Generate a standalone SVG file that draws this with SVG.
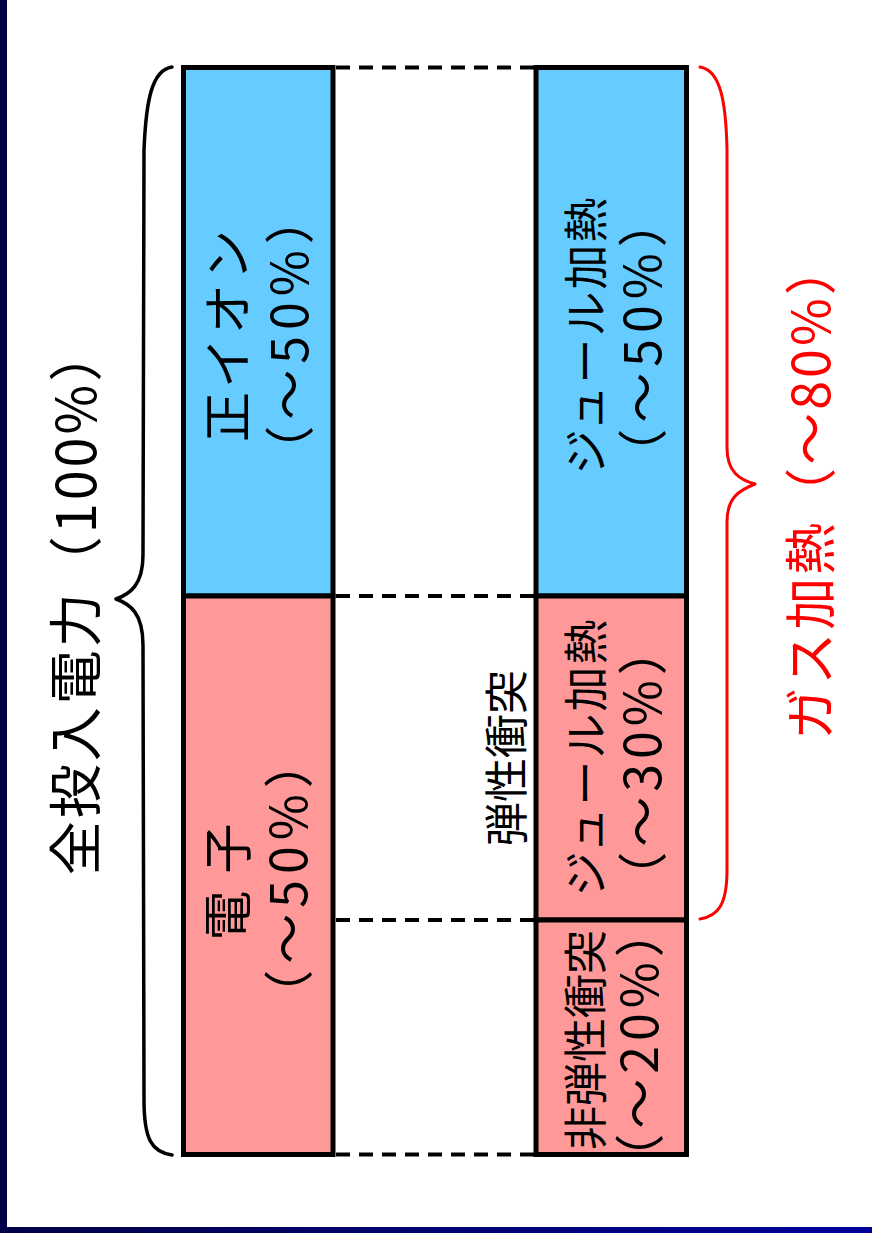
<svg xmlns="http://www.w3.org/2000/svg" width="872" height="1233" viewBox="0 0 872 1233">
<defs>
<linearGradient id="bottomGrad" x1="0" y1="0" x2="1" y2="0">
<stop offset="0" stop-color="#000048"/>
<stop offset="1" stop-color="#00009a"/>
</linearGradient>
</defs>
<style>
.blue{fill:#66CCFF;stroke:#000;stroke-width:5}
.pink{fill:#FF9999;stroke:#000;stroke-width:5}
.t{font-family:"Noto Sans CJK JP","Noto Sans",sans-serif;fill:#000;text-anchor:middle;dominant-baseline:central}
.pct{letter-spacing:6px}
.dash{stroke:#000;stroke-width:4;stroke-dasharray:14 9;fill:none}
.brace{fill:none;stroke:#000;stroke-width:3.5;stroke-linecap:round;stroke-linejoin:round}
.rbrace{fill:none;stroke:#FF0000;stroke-width:3;stroke-linecap:round;stroke-linejoin:round}
</style>
<rect x="0" y="0" width="872" height="1233" fill="#FFFFFF"/>
<rect x="0" y="0" width="7" height="1233" fill="#000048"/>
<rect x="0" y="1227" width="872" height="6" fill="url(#bottomGrad)"/>

<g id="connectors">
<line class="dash" x1="336" y1="67.5" x2="534" y2="67.5"/>
<line class="dash" x1="336" y1="596" x2="534" y2="596"/>
<line class="dash" x1="336" y1="920" x2="534" y2="920"/>
<line class="dash" x1="336" y1="1154.5" x2="534" y2="1154.5"/>
</g>

<g id="brace-total">
<path class="brace" d="M172,67 C152,70 146,100 144,150 L143,555 C143,585 130,594 116,599 C130,604 143,613 143,645 L144,1100 C144,1140 152,1152 172,1155"/>
<text class="t" font-size="54" style="letter-spacing:3px" transform="translate(72,600) rotate(-90)">全投入電力（100%）</text>
</g>

<g id="brace-gas">
<path class="rbrace" d="M700,67 C720,70 726,100 727,150 L727,448 C727,472 740,480 755,484 C740,490 727,497 727,522 L727,870 C727,905 718,916 700,919"/>
<text class="t" font-size="52" style="fill:#FF0000;letter-spacing:3px" transform="translate(807,490) rotate(-90)">ガス加熱（～80%）</text>
</g>

<g id="node-ion">
<rect class="blue" x="183.5" y="67.5" width="149.5" height="528.5"/>
<text class="t" font-size="50" style="letter-spacing:4px" transform="translate(224,334) rotate(-90)">正イオン</text>
<text class="t pct" font-size="50" transform="translate(286,332) rotate(-90)">（～50%）</text>
</g>

<g id="node-electron">
<rect class="pink" x="183.5" y="596" width="149.5" height="558.5"/>
<text class="t" font-size="50" xml:space="preserve" style="word-spacing:6px" transform="translate(224,882) rotate(-90)">電 子</text>
<text class="t pct" font-size="50" transform="translate(285,876) rotate(-90)">（～50%）</text>
</g>

<g id="node-joule-ion">
<rect class="blue" x="536" y="67.5" width="150.5" height="528.5"/>
<text class="t" font-size="45" style="letter-spacing:2px" transform="translate(583,335) rotate(-90)">ジュール加熱</text>
<text class="t pct" font-size="50" transform="translate(639,335) rotate(-90)">（～50%）</text>
</g>

<g id="node-joule-electron">
<rect class="pink" x="536" y="596" width="150.5" height="324"/>
<text class="t" font-size="45" style="letter-spacing:2px" transform="translate(583,757) rotate(-90)">ジュール加熱</text>
<text class="t" font-size="50" style="letter-spacing:5px" transform="translate(639,761) rotate(-90)">（～30%）</text>
</g>

<g id="node-inelastic">
<rect class="pink" x="536" y="920" width="150.5" height="234.5"/>
<text class="t" font-size="44" transform="translate(583,1040) rotate(-90)">非弾性衝突</text>
<text class="t" font-size="50" style="letter-spacing:5px" transform="translate(636,1043) rotate(-90)">（～20%）</text>
</g>

<g id="label-elastic">
<text class="t" font-size="44" transform="translate(504,758) rotate(-90)">弾性衝突</text>
</g>
</svg>
